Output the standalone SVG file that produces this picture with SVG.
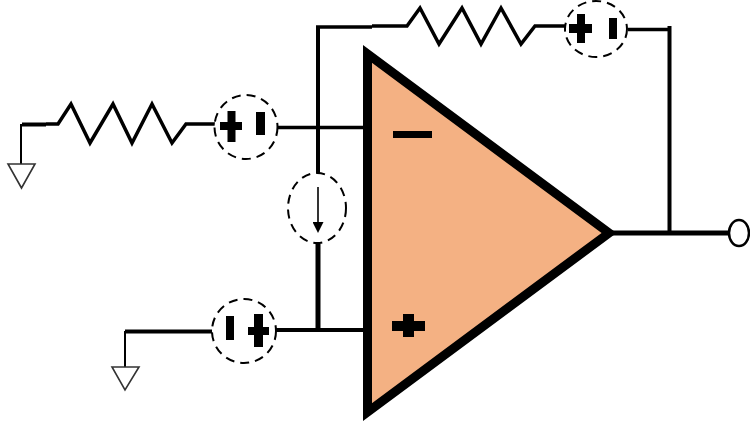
<svg xmlns="http://www.w3.org/2000/svg" width="750" height="422" viewBox="0 0 750 422">
<style>
.w{fill:none;stroke:#000;stroke-linejoin:miter;stroke-linecap:butt}
.d{fill:#fff;stroke:#000;stroke-width:2;stroke-dasharray:9 6}
.g{fill:#fff;stroke:#333;stroke-width:1.6}
.s{fill:#000}
</style>
<defs><marker id="ah" markerUnits="userSpaceOnUse" markerWidth="12" markerHeight="11" refX="0" refY="5.5" orient="auto"><path d="M0 0L11 5.5L0 11Z" fill="#000"/></marker></defs>
<rect width="750" height="422" fill="#fff"/>
<g id="connectors">
<path class="w" stroke-width="2" d="M21 124V165"/>
<path class="w" stroke-width="4" d="M22 124.500H46"/>
<path class="w" stroke-width="3.500" d="M46 124H58L71 104L90 143L113 104L132 143L152 104L172 143L186 124H215"/>
<path class="w" stroke-width="3.500" d="M278 127.500H365"/>
<path class="w" stroke-width="4" d="M318 176V28"/>
<path class="w" stroke-width="3.500" d="M316 27H372"/>
<path class="w" stroke-width="3.500" d="M372 26H407L420 8L439 44L462 8L481 44L501 8L521 44L535 26H565"/>
<path class="w" stroke-width="3.500" d="M628 29.500H671"/>
<path class="w" stroke-width="4" d="M669.500 26V233"/>
<path class="w" stroke-width="5" d="M610 233H729"/>
<path class="w" stroke-width="5" d="M318 244V330"/>
<path class="w" stroke-width="4" d="M276 330H365"/>
<path class="w" stroke-width="4" d="M125 331.500H212"/>
<path class="w" stroke-width="2" d="M125 331V367"/>
</g>
<g id="opamp">
<path d="M367.500 54V412L609 233Z" fill="#f4b183" stroke="#000" stroke-width="9" stroke-miterlimit="10"/>
<rect class="s" x="393" y="131" width="39" height="7"/>
<rect class="s" x="392" y="321" width="33" height="10"/>
<rect class="s" x="403" y="314" width="11" height="23"/>
</g>
<g id="ground-1"><path class="g" d="M8 164H35L21.500 188Z"/></g>
<g id="ground-2"><path class="g" d="M112 367H139L125 390Z"/></g>
<g id="source-input-neg">
<ellipse class="d" cx="246" cy="127" rx="31.500" ry="32"/>
<rect class="s" x="227.500" y="111" width="8" height="31"/>
<rect class="s" x="220" y="122" width="22" height="8"/>
<rect class="s" x="256" y="112" width="9" height="23"/>
</g>
<g id="source-feedback">
<ellipse class="d" cx="596" cy="29" rx="31" ry="28"/>
<rect class="s" x="577" y="14" width="8" height="29"/>
<rect class="s" x="569" y="24" width="23" height="9"/>
<rect class="s" x="609" y="18" width="8" height="21"/>
</g>
<g id="source-input-pos">
<ellipse class="d" cx="244" cy="331" rx="32" ry="32"/>
<rect class="s" x="226" y="316" width="8" height="24"/>
<rect class="s" x="254" y="314" width="9" height="33"/>
<rect class="s" x="248" y="327" width="21" height="8"/>
</g>
<g id="current-source">
<ellipse class="d" cx="317" cy="208" rx="29" ry="35"/>
<path class="w" stroke-width="1.600" d="M318 187V222" marker-end="url(#ah)"/>
</g>
<g id="output-terminal"><ellipse cx="739" cy="233" rx="10" ry="13" fill="#fff" stroke="#000" stroke-width="2.500"/></g>
</svg>
